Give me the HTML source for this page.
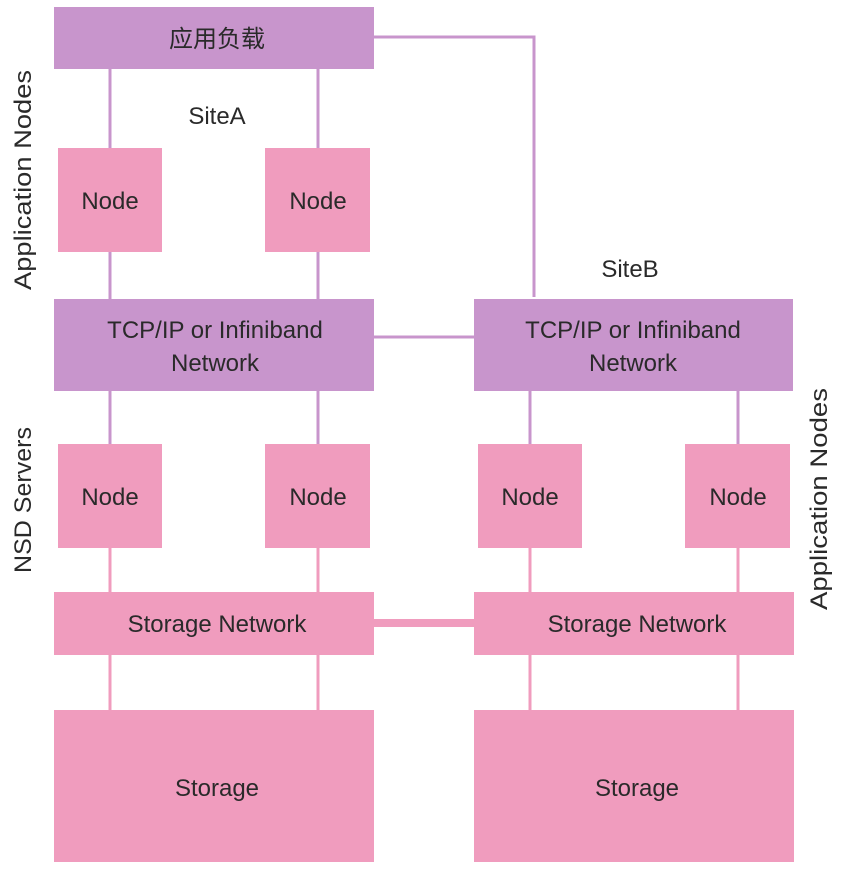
<!DOCTYPE html>
<html><head><meta charset="utf-8"><style>
html,body{margin:0;padding:0;background:#fff;}
svg{display:block;}
text{font-family:"Liberation Sans","Noto Sans CJK SC",sans-serif;fill:#2a2a2a;font-size:24px;text-anchor:middle;}
</style></head><body>
<svg width="848" height="870" viewBox="0 0 848 870" xmlns="http://www.w3.org/2000/svg">
<g stroke="#c895cc" stroke-width="3" fill="none">
<line x1="110" y1="69" x2="110" y2="148"/>
<line x1="318" y1="69" x2="318" y2="148"/>
<line x1="110" y1="252" x2="110" y2="299"/>
<line x1="318" y1="252" x2="318" y2="299"/>
<polyline points="374,37 534,37 534,297"/>
<line x1="374" y1="337" x2="474" y2="337"/>
<line x1="110" y1="391" x2="110" y2="444"/>
<line x1="318" y1="391" x2="318" y2="444"/>
<line x1="530" y1="391" x2="530" y2="444"/>
<line x1="738" y1="391" x2="738" y2="444"/>
</g>
<g stroke="#f09cbe" stroke-width="3">
<line x1="110" y1="548" x2="110" y2="592"/>
<line x1="318" y1="548" x2="318" y2="592"/>
<line x1="530" y1="548" x2="530" y2="592"/>
<line x1="738" y1="548" x2="738" y2="592"/>
<line x1="110" y1="655" x2="110" y2="710"/>
<line x1="318" y1="655" x2="318" y2="710"/>
<line x1="530" y1="655" x2="530" y2="710"/>
<line x1="738" y1="655" x2="738" y2="710"/>
</g>
<rect x="374" y="619" width="100" height="8" fill="#f09cbe"/>
<g fill="#c895cc">
<rect x="54" y="7" width="320" height="62"/>
<rect x="54" y="299" width="320" height="92"/>
<rect x="474" y="299" width="319" height="92"/>
</g>
<g fill="#f09cbe">
<rect x="58" y="148" width="104" height="104"/>
<rect x="265" y="148" width="105" height="104"/>
<rect x="58" y="444" width="104" height="104"/>
<rect x="265" y="444" width="105" height="104"/>
<rect x="478" y="444" width="104" height="104"/>
<rect x="685" y="444" width="105" height="104"/>
<rect x="54" y="592" width="320" height="63"/>
<rect x="474" y="592" width="320" height="63"/>
<rect x="54" y="710" width="320" height="152"/>
<rect x="474" y="710" width="320" height="152"/>
</g>
<text x="217" y="47">应用负载</text>
<text x="217" y="124">SiteA</text>
<text x="630" y="277">SiteB</text>
<text x="110" y="209">Node</text>
<text x="318" y="209">Node</text>
<text x="215" y="338">TCP/IP or Infiniband</text>
<text x="215" y="371">Network</text>
<text x="633" y="338">TCP/IP or Infiniband</text>
<text x="633" y="371">Network</text>
<text x="110" y="505">Node</text>
<text x="318" y="505">Node</text>
<text x="530" y="505">Node</text>
<text x="738" y="505">Node</text>
<text x="217" y="632">Storage Network</text>
<text x="637" y="632">Storage Network</text>
<text x="217" y="796">Storage</text>
<text x="637" y="796">Storage</text>
<text transform="translate(31,180) rotate(-90)" textLength="220" lengthAdjust="spacingAndGlyphs">Application Nodes</text>
<text transform="translate(31,500) rotate(-90)" textLength="146" lengthAdjust="spacingAndGlyphs">NSD Servers</text>
<text transform="translate(827,499) rotate(-90)" textLength="222" lengthAdjust="spacingAndGlyphs">Application Nodes</text>
</svg>
</body></html>
